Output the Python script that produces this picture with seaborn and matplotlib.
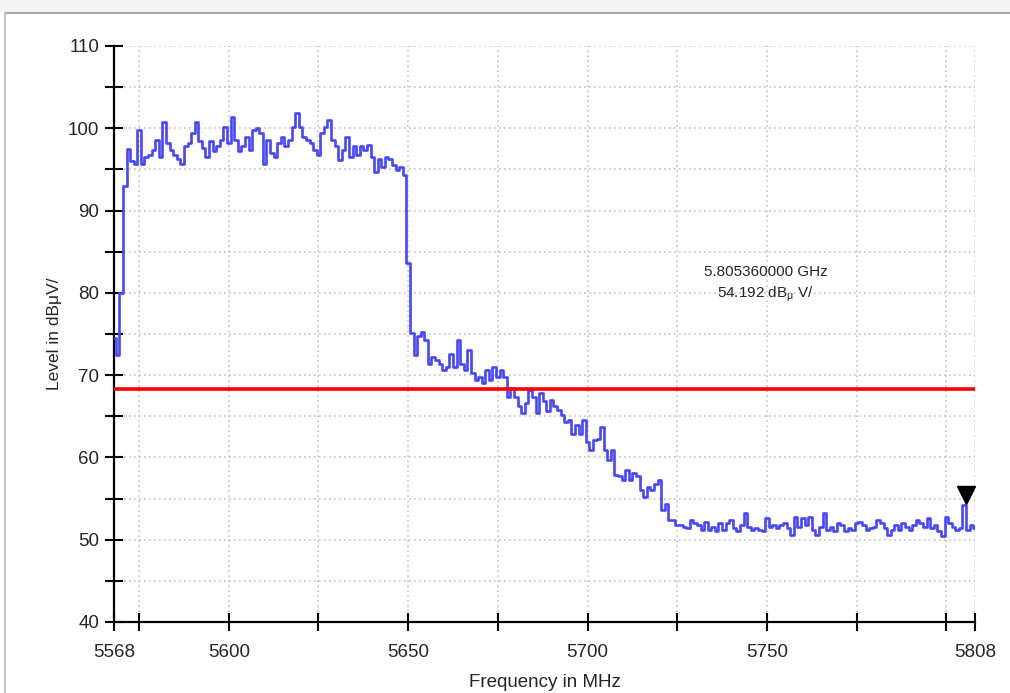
import numpy as np
import pandas as pd
import matplotlib
matplotlib.use("Agg")
import matplotlib.pyplot as plt
import matplotlib.transforms as mtransforms
from matplotlib.lines import Line2D
import seaborn as sns

# ---- data ----
freq_start, freq_stop = 5568, 5808
freq_mhz = np.arange(freq_start, freq_stop + 1, 1.0)
level_dbuv = [
    74.5, 72.5, 80.0, 93.0, 97.5, 96.0, 95.7, 99.8, 95.7, 96.5,
    96.7, 97.4, 98.6, 96.5, 100.8, 98.2, 97.4, 96.7, 96.3, 95.7,
    97.8, 98.2, 99.4, 100.8, 98.4, 97.6, 96.5, 98.4, 97.2, 97.8,
    98.6, 100.2, 98.2, 101.4, 98.6, 97.2, 97.8, 99.0, 97.4, 99.8,
    100.0, 99.4, 95.7, 98.6, 97.0, 96.5, 98.2, 99.0, 97.8, 98.6,
    100.2, 101.8, 100.2, 99.0, 98.6, 98.2, 97.4, 96.7, 99.4, 100.2,
    101.0, 98.6, 97.8, 96.1, 97.4, 99.0, 96.5, 97.8, 96.7, 97.8,
    97.4, 98.0, 96.5, 94.7, 96.3, 95.3, 96.5, 96.3, 95.5, 94.9,
    95.3, 94.3, 83.6, 75.1, 72.5, 74.7, 75.3, 74.3, 71.4, 72.2,
    71.8, 71.4, 70.6, 71.0, 72.6, 71.0, 74.3, 71.4, 70.6, 73.1,
    70.2, 69.4, 69.8, 69.0, 70.6, 69.4, 71.0, 69.8, 70.6, 69.8,
    67.4, 68.4, 67.4, 66.2, 65.4, 66.6, 68.2, 67.4, 65.4, 67.8,
    66.8, 65.6, 67.0, 66.2, 65.8, 65.2, 64.3, 64.5, 62.9, 63.9,
    62.9, 64.5, 61.9, 60.9, 62.1, 62.3, 63.7, 60.9, 59.7, 60.9,
    57.9, 57.7, 57.3, 58.5, 57.3, 58.1, 57.7, 56.0, 55.2, 56.4,
    56.0, 56.8, 57.3, 53.6, 54.4, 52.4, 52.4, 51.8, 51.8, 51.6,
    51.4, 52.4, 52.0, 51.8, 51.2, 52.2, 51.2, 51.6, 51.0, 52.0,
    51.2, 52.0, 52.4, 51.4, 51.0, 51.8, 53.2, 51.6, 51.2, 51.4,
    51.2, 51.0, 52.6, 51.6, 51.8, 51.4, 51.8, 52.0, 51.4, 50.6,
    52.8, 51.6, 52.6, 51.8, 52.8, 51.2, 50.6, 51.6, 53.2, 51.2,
    51.6, 51.0, 52.0, 51.8, 51.0, 51.4, 51.2, 52.0, 52.2, 51.8,
    51.2, 51.4, 51.6, 52.4, 52.0, 51.4, 50.6, 51.2, 51.8, 51.2,
    52.0, 51.6, 51.2, 51.8, 52.4, 52.0, 51.6, 52.6, 51.4, 51.8,
    51.0, 50.4, 52.8, 52.0, 51.6, 51.2, 51.4, 54.2, 51.2, 51.8,
    51.4,
]
limit_level = 68.3
marker_freq_mhz = 5805.36
marker_level = 54.192
marker_text = ["5.805360000 GHz", "54.192 dB$_{\\mu}$ V/"]

x_major = [5568, 5600, 5650, 5700, 5750, 5808]
x_minor = [5575, 5625, 5675, 5725, 5775, 5800]
y_major = [40, 50, 60, 70, 80, 90, 100, 110]
y_minor = [45, 55, 65, 75, 85, 95, 105]

# ---- plot ----
sns.set_theme(style="white")
plt.rcParams["font.family"] = ["Liberation Sans", "DejaVu Sans"]
plt.rcParams["mathtext.fontset"] = "custom"
plt.rcParams["mathtext.rm"] = "Liberation Sans"
plt.rcParams["mathtext.it"] = "Liberation Sans"

fig = plt.figure(figsize=(10.10, 6.93), dpi=100)
ax = fig.add_axes([114 / 1010, 1 - 622 / 693, (975 - 114) / 1010, (622 - 46) / 693])

df = pd.DataFrame({"freq": freq_mhz, "level": level_dbuv})
sns.lineplot(data=df, x="freq", y="level", ax=ax, color="#4646ff",
             linewidth=1.9, drawstyle="steps-mid", zorder=3)
ax.axhline(limit_level, color="#ff0000", linewidth=2.6, zorder=4)

# marker triangle pointing down onto the marker point
trans = ax.transData + mtransforms.ScaledTranslation(0, 7.5 / 72, fig.dpi_scale_trans)
ax.plot([marker_freq_mhz], [marker_level], marker="v", color="black",
        markersize=13, transform=trans, zorder=5, clip_on=False)

ax.text(5749.7, 82.5, marker_text[0], ha="center", va="center", fontsize=11)
ax.text(5749.7, 79.8, marker_text[1], ha="center", va="center", fontsize=11)

ax.set_xlim(freq_start, freq_stop)
ax.set_ylim(40, 110)
ax.set_xticks(x_major)
ax.set_xticks(x_minor, minor=True)
ax.set_yticks(y_major)
ax.set_yticks(y_minor, minor=True)
ax.set_xticklabels([str(v) for v in x_major])
ax.set_yticklabels([str(v) for v in y_major])

ax.tick_params(axis="both", which="both", direction="inout", length=13,
               width=1.5, color="black", bottom=True, left=True)
ax.tick_params(axis="x", which="major", labelsize=13.5, pad=9)
ax.tick_params(axis="y", which="major", labelsize=13.5, pad=4)

ax.grid(True, which="both", linestyle=(0, (1, 2)), color="#c4c4c4", linewidth=1.2)
ax.set_axisbelow(True)

for s in ("top", "right"):
    ax.spines[s].set_visible(False)
for s in ("left", "bottom"):
    ax.spines[s].set_color("black")
    ax.spines[s].set_linewidth(1.6)

ax.set_xlabel("Frequency in MHz", fontsize=13.5, labelpad=10)
ax.set_ylabel("Level in dB\u03bcV/", fontsize=12.5, labelpad=4)

# outer frame of the screenshot
fig.add_artist(Line2D([4.5 / 1010, 1.0], [1 - 12.5 / 693] * 2, transform=fig.transFigure,
                      color="#a8a8a8", linewidth=1.5))
fig.add_artist(Line2D([4.5 / 1010] * 2, [0.0, 1 - 12.5 / 693], transform=fig.transFigure,
                      color="#c8c8c8", linewidth=1.5))
fig.patches.append(plt.Rectangle((0, 1 - 12 / 693), 1, 12 / 693, transform=fig.transFigure,
                                 facecolor="#f4f4f4", edgecolor="none", zorder=-1))

fig.savefig("out.png", dpi=100)
